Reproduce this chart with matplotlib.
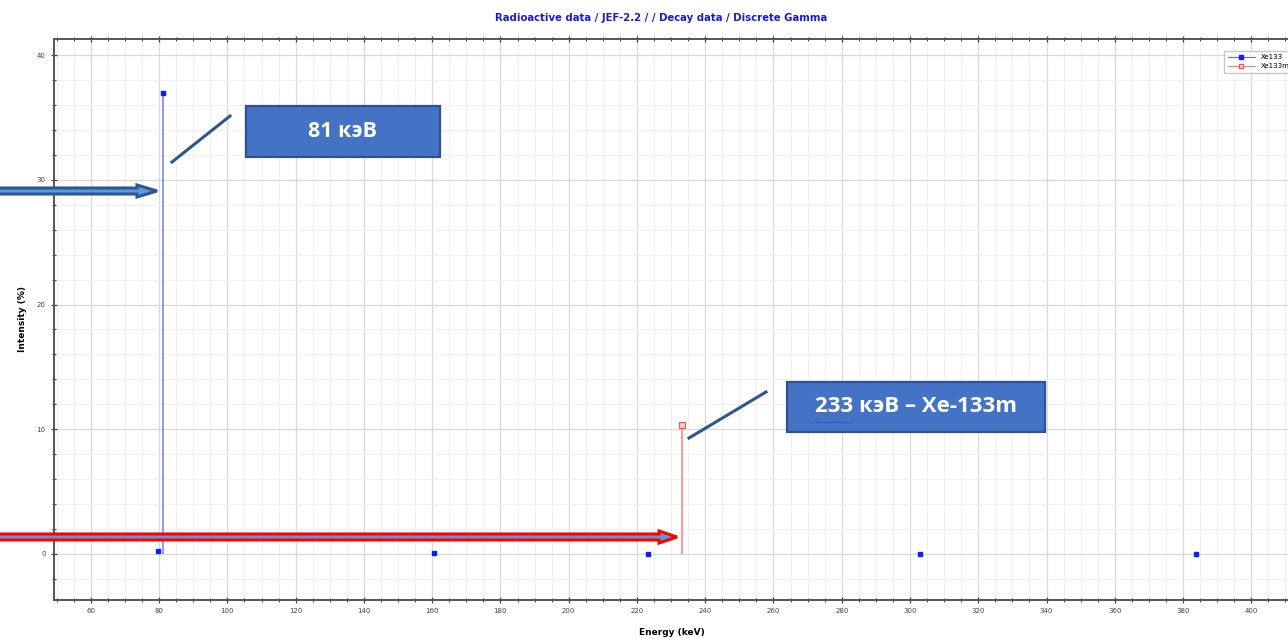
import numpy as np
import matplotlib.pyplot as plt
from matplotlib.patches import Polygon, Rectangle
from matplotlib.lines import Line2D
from matplotlib.ticker import MultipleLocator
from matplotlib.transforms import Affine2D

# Discrete gamma lines (energy keV, intensity %)
xe133_energy = [79.6, 81.0, 160.6, 223.2, 302.9, 383.9]
xe133_intensity = [0.26, 37.0, 0.07, 0.0, 0.0, 0.0]
xe133m_energy = [233.2]
xe133m_intensity = [10.3]

title = "Radioactive data / JEF-2.2 / / Decay data / Discrete Gamma"
label_81 = "81 кэВ"
label_233 = "233 кэВ – Xe-133m"

W, H = 1288, 639
fig = plt.figure(figsize=(W / 100, H / 100), dpi=100)
ax = fig.add_axes([54 / W, 1 - 600 / H, 1 - 54 / W + 0.002, (600 - 39) / H])

# Grid and ticks
ax.set_xlim(49.2, 411.5)
ax.set_ylim(-3.7, 41.3)
ax.xaxis.set_major_locator(MultipleLocator(20))
ax.xaxis.set_minor_locator(MultipleLocator(5))
ax.yaxis.set_major_locator(MultipleLocator(10))
ax.yaxis.set_minor_locator(MultipleLocator(2))
ax.grid(which='major', color='#d8d8d8', linewidth=0.9)
ax.grid(which='minor', color='#f0f0f0', linewidth=0.7)
ax.set_axisbelow(True)
ax.tick_params(which='both', direction='inout', colors='#444444', labelsize=5,
               top=True, labeltop=False)
ax.tick_params(which='major', length=5, width=0.9)
ax.tick_params(which='minor', length=3, width=0.7)
for s in ['left', 'bottom', 'top']:
    ax.spines[s].set_color('#555555')
    ax.spines[s].set_linewidth(1.4)
ax.spines['right'].set_visible(False)

# Stems
ax.vlines(xe133_energy, 0, xe133_intensity, color='#6a7cff', linewidth=1.1)
ax.plot(xe133_energy, xe133_intensity, 's', color='#0a1eff', markersize=3,
        linestyle='none')
ax.vlines(xe133m_energy, 0, xe133m_intensity, color='#ff8080', linewidth=1.1)
ax.plot(xe133m_energy, xe133m_intensity, 's', markerfacecolor='#ffd0d0',
        markeredgecolor='#ff5050', markersize=4, markeredgewidth=0.8, linestyle='none')

handles = [
    Line2D([], [], color='#5a6cff', marker='s', markerfacecolor='#0a1eff',
           markeredgecolor='#0a1eff', markersize=3, linewidth=0.8),
    Line2D([], [], color='#ff8080', marker='s', markerfacecolor='white',
           markeredgecolor='#ff5050', markersize=3, linewidth=0.8),
]
ax.legend(handles, ['Xe133', 'Xe133m'], loc='upper right', fontsize=5,
          bbox_to_anchor=(1.005, 0.985), frameon=True, fancybox=False,
          edgecolor='#bbbbbb', handlelength=4, borderpad=0.5, labelspacing=0.4)

ax.set_xlabel('Energy (keV)', fontsize=6.5, fontweight='bold', labelpad=10)
ax.set_ylabel('Intensity (%)', fontsize=6.5, fontweight='bold', labelpad=7)
fig.text(661 / W, 1 - 18 / H, title, color='#1a1adb', fontsize=7.3,
         fontweight='bold', ha='center', va='center')

# Overlay drawn in pixel coordinates (y downward)
px = Affine2D().scale(1 / W, -1 / H).translate(0, 1) + fig.transFigure


def block_arrow(x0, x1, yc, body, head, head_len, edge, face):
    pts = [(x0, yc - body / 2), (x1 - head_len, yc - body / 2),
           (x1 - head_len, yc - head / 2), (x1, yc),
           (x1 - head_len, yc + head / 2), (x1 - head_len, yc + body / 2),
           (x0, yc + body / 2)]
    fig.patches.append(Polygon(pts, closed=True, transform=px, facecolor=face,
                               edgecolor=edge, linewidth=2.2, joinstyle='miter'))


block_arrow(-5, 157, 191, 6, 12, 20, '#2f5597', '#5b9bd5')
block_arrow(-5, 677, 537, 6, 12, 18, '#ff0000', '#5b9bd5')


def callout(x0, y0, x1, y1, lx0, ly0, lx1, ly1, text, fs):
    fig.patches.append(Rectangle((x0, y0), x1 - x0, y1 - y0, transform=px,
                                 facecolor='#4472c4', edgecolor='#2f528f',
                                 linewidth=1.6))
    fig.lines.append(Line2D([lx0, lx1], [ly0, ly1], transform=px,
                            color='#2f5597', linewidth=2.2))
    cx, cy = (x0 + x1) / 2, (y0 + y1) / 2
    fig.text(cx / W, 1 - cy / H, text, color='white', fontsize=fs,
             fontweight='bold', family='Open Sans', ha='center', va='center')


callout(246, 106, 440, 157, 172, 162, 230, 116, label_81, 15.5)
callout(787, 382, 1045, 432, 689, 438, 766, 392, label_233, 16)
# spell-check underline below "233"
fig.lines.append(Line2D([811, 853], [422, 422], transform=px, color='#3355dd',
                        linewidth=1.0, linestyle=(0, (2, 1))))

fig.savefig('out.png', dpi=100)
